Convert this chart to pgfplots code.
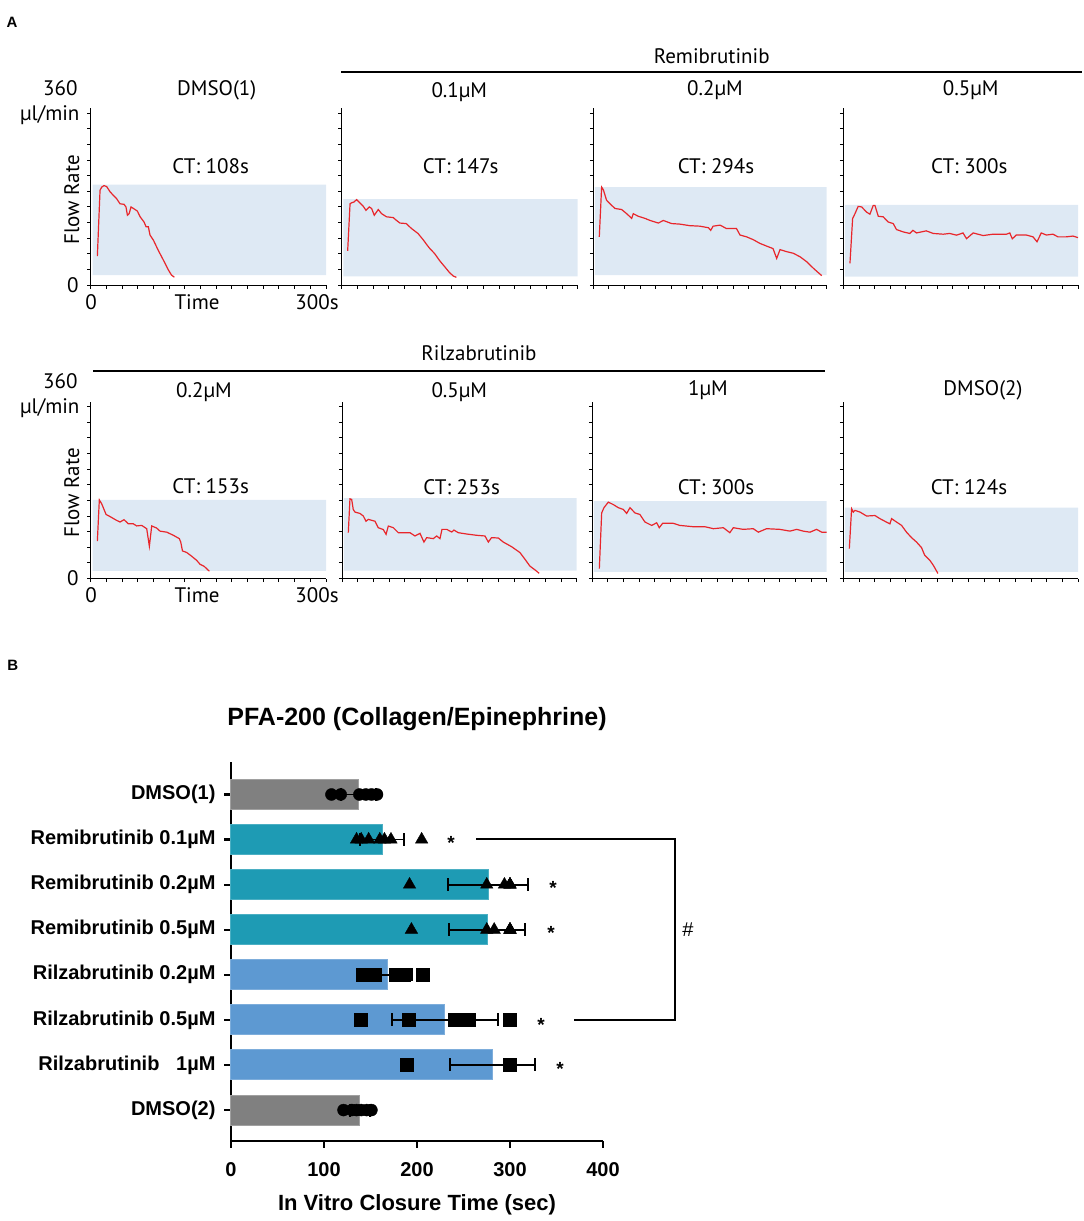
\documentclass[border=0pt]{standalone}
\usepackage{fontspec}
\setmainfont{Liberation Sans}
\newfontfamily\ptsans{PT Sans}
\usepackage{pgfplots}
\pgfplotsset{compat=1.18}

\definecolor{flowred}{RGB}{232,38,43}
\definecolor{boxblue}{RGB}{222,233,244}
\definecolor{bargray}{RGB}{128,128,128}
\definecolor{barteal}{RGB}{30,155,180}
\definecolor{barblue}{RGB}{93,153,210}

\newcommand\fa{\ptsans\fontsize{21}{25}\selectfont}
\newcommand\fb{\bfseries\fontsize{20}{24}\selectfont}

\pgfplotsset{
  flow/.style={scale only axis, width=#1, height=177pt,
    xmin=0, xmax=300, ymin=0, ymax=340,
    axis lines=left, axis line style={-, line width=1pt},
    xtick={0,20,...,300}, ytick={0,30,...,330},
    xticklabels={}, yticklabels={},
    tick align=outside, major tick length=3.5pt,
    tick style={line width=0.9pt, black}},
  box/.style={fill=boxblue, draw=none},
  trace/.style={flowred, line width=1.2pt},
  hbar/.style={xbar, bar width=30pt, bar shift=0pt, line width=1pt},
}

\begin{document}
\begin{tikzpicture}
\useasboundingbox (0,0) rectangle (1084pt,-1221pt);

% ---------------- panel A, top row ----------------
\begin{axis}[flow=235.3pt, at={(90.7pt,-285pt)}, anchor=south west]
\addplot[box] coordinates {(2.5,19) (300,19) (300,193) (2.5,193) (2.5,19)};
\addplot[trace] coordinates {(8.5,55.5) (11.9,182) (14,188) (17,191) (20.4,189) (24.7,179) (29,172) (33,166) (37.4,156) (42.5,155) (45,150) (46.8,134) (49,137) (51.4,150) (56.5,145) (59.5,142) (63,131) (68,121) (70.6,112) (73.5,112) (75.6,96) (80,86) (86,67) (92.6,48) (99,29) (103,19) (106.7,15)};
\end{axis}

\begin{axis}[flow=236pt, at={(341.7pt,-285pt)}, anchor=south west]
\addplot[box] coordinates {(2,16.6) (300,16.6) (300,165) (2,165) (2,16.6)};
\addplot[trace] coordinates {(7.6,65.7) (10.6,156) (12.7,158) (15.6,159.5) (19,164) (23,158) (27.5,151) (30.8,143.5) (35,150) (38,147) (41.4,134) (46.5,145) (50.7,137) (57,131) (65.5,129.5) (69.7,124) (74,119) (82,118) (88.7,108.5) (97,99) (103.5,87) (108.6,76.6) (112,70) (118,60.6) (124.6,46.6) (131,35) (137,24) (142,17) (145.8,14.7)};
\end{axis}

\begin{axis}[flow=233.4pt, at={(593.3pt,-285pt)}, anchor=south west]
\addplot[box] coordinates {(2,19) (300,19) (300,188) (2,188) (2,19)};
\addplot[trace] coordinates {(7.7,92.5) (10.7,188) (12.9,183) (17,163) (21.4,156) (27.9,147) (36.4,145) (42.9,137) (49.3,128) (51.4,137) (57.9,132) (66.4,128) (72.9,124) (83.6,119) (90,124) (100.7,118) (111,117) (124,114) (137,113) (148,110) (150.9,105) (154,113) (163,115) (171,108.5) (184,108.5) (188.6,96) (197,92.5) (205.7,87) (214,80) (223,74.6) (231,70) (235.7,51) (240,68) (248.6,64) (257,61) (266,54) (274,45) (283,32) (289,24) (293.6,18)};
\end{axis}

\begin{axis}[flow=234.7pt, at={(843.3pt,-285pt)}, anchor=south west]
\addplot[box] coordinates {(2,16) (300,16) (300,154) (2,154) (2,16)};
\addplot[trace] coordinates {(8.5,41.5) (11.9,127.6) (14.9,137) (19,151) (23.4,150) (29.8,140) (34,136) (38.3,153) (40.4,153) (44.7,132) (51,131) (57.4,121) (63.8,118) (68,106.5) (76.6,102) (85,99) (89,105) (93.6,100) (106,104) (115,99) (127.7,97.6) (136,99) (144.7,95.7) (153,100) (157.5,89) (166,100) (178.7,95) (191.5,97.6) (208.5,97.6) (212.8,100) (216,88.7) (221,96) (234,96) (242.5,92.5) (247.6,83) (253,100) (259.6,96) (268,97.6) (274.4,92.5) (285,92.5) (293.6,94) (300,91)};
\end{axis}

% ---------------- panel A, bottom row ----------------
\begin{axis}[flow=235.3pt, at={(90.7pt,-578.5pt)}, anchor=south west]
\addplot[box] coordinates {(2.5,14.7) (300,14.7) (300,151) (2.5,151) (2.5,14.7)};
\addplot[trace] coordinates {(8.5,72) (11,151) (14,143.6) (19.6,123) (24.6,119) (33,111.7) (37.4,108.5) (42.5,113) (48,105) (54.4,105) (58.6,101) (65,102) (71.4,95.7) (74.8,62) (77.8,101) (84,97) (88.4,91) (97,89) (105.4,83) (113,76.6) (114.8,70) (117,53) (122.4,50) (128.8,42.7) (135,35) (139.4,27.4) (144.5,23.6) (151.3,14)};
\end{axis}

\begin{axis}[flow=234.4pt, at={(342.3pt,-578.5pt)}, anchor=south west]
\addplot[box] coordinates {(2,15.3) (300,15.3) (300,154.4) (2,154.4) (2,15.3)};
\addplot[trace] coordinates {(7.7,88) (9.8,153) (12,152) (14,132.7) (16.2,127.6) (22.6,125) (26.9,120) (30.3,110) (33.3,113.6) (41.8,110) (46,97.6) (52.5,94) (56,84.9) (58.9,100.8) (65.3,97.6) (71.7,88) (86.6,88) (93,81.7) (99.4,86.8) (104.5,70) (108,78.5) (116.5,76.6) (120.8,81.7) (125,76.6) (127.6,94.4) (133.6,94.4) (140,89.3) (142.9,93) (148.5,88) (159,85.5) (172,83) (182.6,81.7) (186.9,70) (191,78.5) (199.7,77.8) (206,70) (216.8,61) (227.4,49.8) (233.8,37) (240,24) (246.6,16.6) (252,10)};
\end{axis}

\begin{axis}[flow=234.4pt, at={(592.3pt,-578.5pt)}, anchor=south west]
\addplot[box] coordinates {(2,12.8) (300,12.8) (300,148.7) (2,148.7) (2,12.8)};
\addplot[trace] coordinates {(9,19) (12,126) (14.9,136) (20.5,146.7) (26.9,142) (33.3,136) (39.7,132.7) (44,125) (48.2,136) (54.6,126) (60.9,123) (67.4,108.5) (76,102) (82.4,107) (85.7,97.6) (90,106) (103.7,106) (112,102) (129,99.5) (144,99.5) (155,95.7) (167.7,97.6) (176,88) (180.5,97.6) (193,94.4) (206,95.7) (212.5,89) (223,95.7) (240,94.4) (253,91) (261.6,94.4) (270,91) (278.6,89) (287,94.4) (293.6,89) (300,89)};
\end{axis}

\begin{axis}[flow=234.7pt, at={(843.3pt,-578.5pt)}, anchor=south west]
\addplot[box] coordinates {(2,12.8) (300,12.8) (300,136) (2,136) (2,12.8)};
\addplot[trace] coordinates {(7.7,57.4) (10.6,134) (12.8,127.6) (14.9,130.8) (21.3,127.6) (29.8,120) (40.4,121) (46.8,115) (55,108.5) (59.6,105) (61.7,115) (68,108.5) (74.5,102) (80.8,89) (87.2,78.5) (93.6,70) (100,59.3) (104,44.7) (110.6,35) (115,25.5) (121,9.6)};
\end{axis}

% panel A texts
\node[font=\bfseries\fontsize{15}{18}\selectfont] at (12pt,-22pt) {A};
\draw[line width=1.5pt] (341pt,-72pt) -- (1082pt,-72pt);
\node[font=\fa] at (711.7pt,-56pt) {Remibrutinib};
\draw[line width=1.5pt] (93pt,-371pt) -- (825pt,-371pt);
\node[font=\fa] at (479pt,-353pt) {Rilzabrutinib};

\foreach \yo in {0,293}{
  \node[font=\fa, anchor=east] at (81pt,{(-88.3-\yo)*1pt}) {360};
  \node[font=\fa, anchor=east] at (83pt,{(-115-\yo)*1pt}) {µl/min};
  \node[font=\fa, rotate=90] at (71.7pt,{(-200-\yo)*1pt}) {Flow Rate};
  \node[font=\fa, anchor=east] at (82pt,{(-285-\yo)*1pt}) {0};
  \node[font=\fa] at (91pt,{(-301.7-\yo)*1pt}) {0};
  \node[font=\fa] at (197pt,{(-301.7-\yo)*1pt}) {Time};
  \node[font=\fa] at (317pt,{(-301.7-\yo)*1pt}) {300s};
}

\node[font=\fa] at (216.7pt,-90pt) {DMSO(1)};
\node[font=\fa] at (459.3pt,-91.7pt) {0.1µM};
\node[font=\fa] at (715pt,-90pt) {0.2µM};
\node[font=\fa] at (970.7pt,-90pt) {0.5µM};
\node[font=\fa] at (210.7pt,-166pt) {CT: 108s};
\node[font=\fa] at (460.7pt,-166pt) {CT: 147s};
\node[font=\fa] at (716pt,-166pt) {CT: 294s};
\node[font=\fa] at (969.3pt,-166pt) {CT: 300s};

\node[font=\fa] at (204pt,-391.7pt) {0.2µM};
\node[font=\fa] at (459.3pt,-391.7pt) {0.5µM};
\node[font=\fa] at (708pt,-390pt) {1µM};
\node[font=\fa] at (983pt,-390pt) {DMSO(2)};
\node[font=\fa] at (210.7pt,-485.7pt) {CT: 153s};
\node[font=\fa] at (461.7pt,-486.7pt) {CT: 253s};
\node[font=\fa] at (716pt,-486.7pt) {CT: 300s};
\node[font=\fa] at (969pt,-486.7pt) {CT: 124s};

% ---------------- panel B ----------------
\node[font=\bfseries\fontsize{15}{18}\selectfont] at (12.7pt,-665pt) {B};
\node[font=\bfseries\fontsize{25}{30}\selectfont] at (417pt,-719pt) {PFA-200 (Collagen/Epinephrine)};

\begin{axis}[at={(231pt,-1140.7pt)}, anchor=south west,
  scale only axis, width=372pt, height=378.7pt,
  xmin=0, xmax=400, ymin=-0.68, ymax=7.72,
  axis lines=left, axis line style={-, line width=2.2pt},
  xtick={0,100,200,300,400}, xticklabels={0,100,200,300,400},
  ytick={0,1,2,3,4,5,6,7},
  yticklabels={DMSO(2), Rilzabrutinib\ \ \ 1µM, Rilzabrutinib 0.5µM,
    Rilzabrutinib 0.2µM, Remibrutinib 0.5µM, Remibrutinib 0.2µM,
    Remibrutinib 0.1µM, DMSO(1)},
  tick align=outside, major tick length=7pt,
  tick style={line width=2.2pt, black},
  ticklabel style={font=\fb},
  xticklabel style={yshift=-11pt},
  yticklabel style={xshift=-5pt},
  unbounded coords=jump,
  clip=false]
\addplot[hbar, fill=bargray, draw=bargray!75!white] coordinates {(137,7) (138.7,0)};
\addplot[hbar, fill=barteal, draw=barteal!80!white] coordinates {(162.7,6) (276.7,5) (275.3,4)};
\addplot[hbar, fill=barblue, draw=barblue!80!white] coordinates {(168,3) (229.7,2) (281.4,1)};
% mean +- SD, capped
\addplot[black, line width=1.8pt, mark=|, mark size=6.5pt, mark options={line width=1.8pt}]
  coordinates {(118,7) (156,7) (nan,nan)
    (139,6) (186.4,6) (nan,nan)
    (233.7,5) (319.7,5) (nan,nan)
    (234.7,4) (315.9,4) (nan,nan)
    (141,3) (195,3) (nan,nan)
    (172.7,2) (286.7,2) (nan,nan)
    (235.9,1) (326.9,1) (nan,nan)
    (127.7,0) (149.7,0)};
% individual values
\addplot[only marks, mark=*, mark size=6pt, black] coordinates {
  (108,7) (118,7) (138,7) (145,7) (151,7) (157,7)
  (121,0) (130,0) (135,0) (140,0) (146,0) (151,0)};
\addplot[only marks, mark=triangle*, mark size=7.2pt, black] coordinates {
  (135,6) (140,6) (148,6) (160,6) (165,6) (172,6) (205,6)
  (192,5) (275,5) (294,5) (300,5) (300,5) (300,5)
  (194,4) (275,4) (283,4) (300,4) (300,4) (300,4)};
\addplot[only marks, mark=square*, mark size=6.5pt, black] coordinates {
  (142,3) (148,3) (155,3) (177,3) (186,3) (206,3)
  (139,2) (191,2) (240,2) (248,2) (256,2) (300,2)
  (189,1) (300,1) (300,1) (300,1) (300,1) (300,1)};
\end{axis}

\node[font=\bfseries\fontsize{22}{26}\selectfont] at (417pt,-1205pt) {In Vitro Closure Time (sec)};

\foreach \xs/\ys in {451/839, 553/884, 551/929, 541/1021, 560/1065}
  \node[font=\bfseries\fontsize{19}{22}\selectfont] at (\xs pt,-\ys pt-4pt) {*};
\draw[line width=2pt] (476pt,-839pt) -- (675pt,-839pt) -- (675pt,-1020pt) -- (574pt,-1020pt);
\node[font=\fontsize{20}{24}\selectfont] at (688pt,-930pt) {\#};
\end{tikzpicture}
\end{document}
